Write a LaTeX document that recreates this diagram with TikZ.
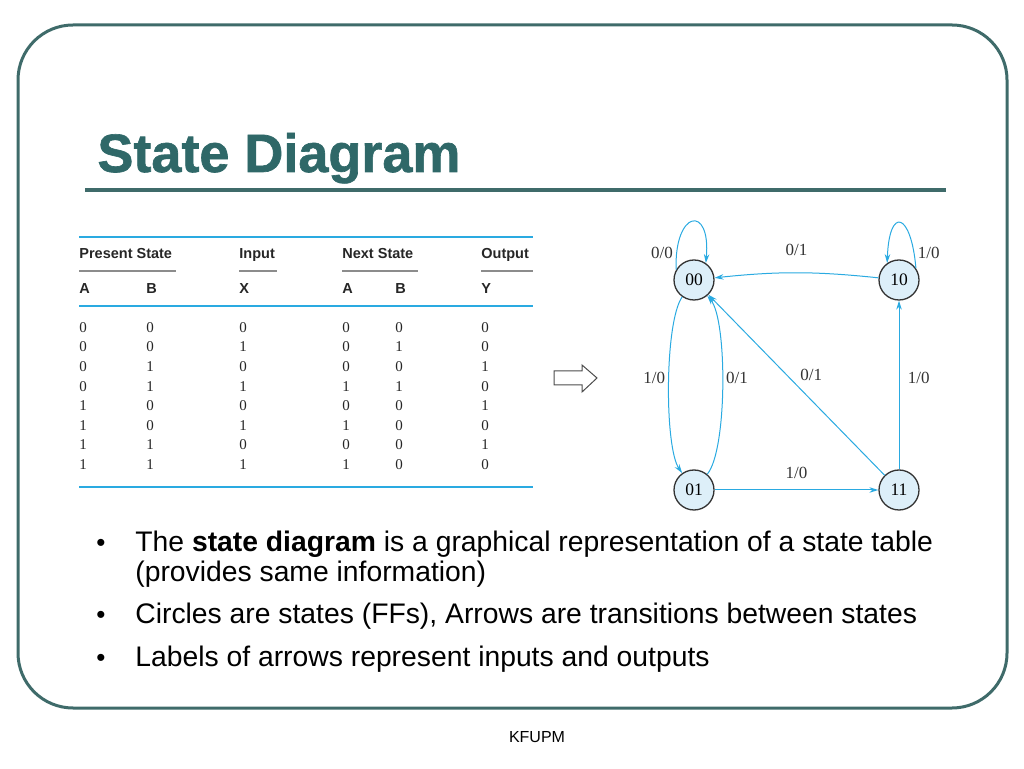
\documentclass[tikz,border=0pt]{standalone}
\usepackage{fontspec}
\setmainfont{Liberation Sans}
\newfontfamily\tabfont{Liberation Serif}
\newfontfamily\titlefont[FakeBold=1.2]{Liberation Sans Bold}
\usetikzlibrary{positioning, arrows.meta}
\definecolor{slideline}{HTML}{3F6B6A}
\definecolor{titlec}{HTML}{2F6868}
\definecolor{cyanline}{HTML}{2AAAE1}
\definecolor{statefill}{HTML}{DDEFF9}

\begin{document}
\begin{tikzpicture}[x=1pt, y=1pt, node distance={205pt}, thick,
  main/.style = {draw=black!80, circle, fill=statefill, minimum size=40pt, inner sep=0pt, line width=1.3pt, font=\tabfont\fontsize{17.5}{17.5}\selectfont},
  tr/.style = {-{Stealth[length=9pt, width=5.5pt]}, draw=cyanline, line width=1pt},
  lab/.style = {font=\tabfont\fontsize{17}{17}\selectfont, text=black!80},
  head/.style = {anchor=base west, inner sep=0pt, font=\bfseries\fontsize{14.5}{14.5}\selectfont, text=black!85},
  col/.style = {anchor=north west, inner sep=0pt, align=left, font=\tabfont\fontsize{15}{19.6}\selectfont, text=black!85},
  bul/.style = {anchor=base west, inner sep=0pt, font=\fontsize{28.3}{28.3}\selectfont}]
\useasboundingbox (0,0) rectangle (1024,768);
% slide frame and title
\draw[slideline, line width=3pt, rounded corners=55pt] (18,60) rectangle (1007,743);
\node[anchor=base west, inner sep=0pt, text=titlec, font=\titlefont\fontsize{54}{54}\selectfont] (title) at (97,596) {State Diagram};
\draw[slideline, line width=4pt] (85,578) -- (946,578);
% state table
\draw[cyanline, line width=2pt] (79,531) -- (533,531);
\draw[cyanline, line width=2pt] (79,462) -- (533,462);
\draw[cyanline, line width=2pt] (79,281) -- (533,281);
\node[head] (ps) at (79,509) {Present State};
\node[head] (in) at (239,509) {Input};
\node[head] (ns) at (342,509) {Next State};
\node[head] (out) at (481,509) {Output};
\draw[black!45, line width=2pt] (79,497) -- (176,497);
\draw[black!45, line width=2pt] (239,497) -- (277,497);
\draw[black!45, line width=2pt] (342,497) -- (418,497);
\draw[black!45, line width=2pt] (481,497) -- (533,497);
\node[head] (ha) at (79,474) {A};
\node[head] (hb) at (146,474) {B};
\node[head] (hx) at (239,474) {X};
\node[head] (hna) at (342,474) {A};
\node[head] (hnb) at (395,474) {B};
\node[head] (hy) at (481,474) {Y};
\node[col] (ca) at (79,446) {0\\0\\0\\0\\1\\1\\1\\1};
\node[col] (cb) at (146,446) {0\\0\\1\\1\\0\\0\\1\\1};
\node[col] (cx) at (239,446) {0\\1\\0\\1\\0\\1\\0\\1};
\node[col] (cna) at (342,446) {0\\0\\0\\1\\0\\1\\0\\1};
\node[col] (cnb) at (395,446) {0\\1\\0\\1\\0\\0\\0\\0};
\node[col] (cy) at (481,446) {0\\0\\1\\0\\1\\0\\1\\0};
% hollow arrow
\draw[black!70, fill=white, line width=1pt] (554,383) -- (582,383) -- (582,376) -- (597,390) -- (582,403) -- (582,397) -- (554,397) -- cycle;
% state diagram
\node[main] (1) at (694,488) {00};
\node[main] (2) [right of=1] {10};
\node[main] (3) [below of=1, node distance=210pt] {01};
\node[main] (4) [right of=3] {11};
\draw[tr] (1.150) to [out=92,in=85,looseness=5] node[lab, left, pos=0.1] {0/0} (1.55);
\draw[tr] (2.35) to [out=95,in=88,looseness=5] node[lab, right, pos=0.1] {1/0} (2.125);
\draw[tr] (2) to [bend right=6] node[lab, above=13pt] {0/1} (1);
\draw[tr] (1) to [out=-125,in=125,looseness=0.45] node[lab, left, yshift=7pt] {1/0} (3);
\draw[tr] (3) to [out=50,in=-50,looseness=0.45] node[lab, right, yshift=7pt] {0/1} (1);
\draw[tr] (4) -- node[lab, above right] {0/1} (1);
\draw[tr] (4) -- node[lab, right=5pt, yshift=7pt] {1/0} (2);
\draw[tr] (3) -- node[lab, above=7pt] {1/0} (4);
% bullets
\node[bul, font=\fontsize{26}{26}\selectfont] (d1) at (96,216) {\textbullet};
\node[bul] (b1) at (135,216) {The \textbf{state diagram} is a graphical representation of a state table};
\node[bul] (b2) at (135,186) {(provides same information)};
\node[bul, font=\fontsize{26}{26}\selectfont] (d3) at (96,144) {\textbullet};
\node[bul] (b3) at (135,144) {Circles are states (FFs), Arrows are transitions between states};
\node[bul, font=\fontsize{26}{26}\selectfont] (d4) at (96,102) {\textbullet};
\node[bul] (b4) at (135,102) {Labels of arrows represent inputs and outputs};
\node[anchor=base, inner sep=0pt, font=\fontsize{16}{16}\selectfont] (foot) at (537,26) {KFUPM};
\end{tikzpicture}
\end{document}
